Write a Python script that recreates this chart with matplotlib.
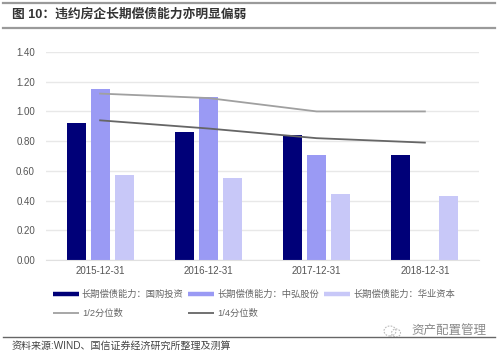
import matplotlib
matplotlib.use('Agg')
import matplotlib.pyplot as plt
import numpy as np
from matplotlib.lines import Line2D
from matplotlib.patches import Ellipse

plt.rcParams['font.family'] = ['Liberation Sans', 'Noto Sans CJK SC', 'DejaVu Sans']

categories = ['2015-12-31', '2016-12-31', '2017-12-31', '2018-12-31']
guogou = [0.92, 0.86, 0.84, 0.71]
zhonghong = [1.15, 1.10, 0.71, np.nan]
huaye = [0.57, 0.55, 0.445, 0.43]
median = [1.12, 1.09, 1.00, 1.00]
quartile = [0.94, 0.885, 0.82, 0.79]
yticks = [0, 0.2, 0.4, 0.6, 0.8, 1.0, 1.2, 1.4]
names = ['长期偿债能力\uff1a国购投资', '长期偿债能力\uff1a中弘股份', '长期偿债能力\uff1a华业资本', '1/2分位数', '1/4分位数']
title = '图 10\uff1a违约房企长期偿债能力亦明显偏弱'
source = '资料来源:WIND、国信证券经济研究所整理及测算'
watermark = '资产配置管理'

W, H = 500, 354
fig = plt.figure(figsize=(W / 100, H / 100), dpi=100, facecolor='white')
ax = fig.add_axes([46 / W, 1 - 260 / H, 433 / W, 208 / H])
x = np.arange(len(categories))
cols = ['#000078', '#9A9AF4', '#C8C8F8']
for off, vals, c in zip((-0.222, 0, 0.222), (guogou, zhonghong, huaye), cols):
    ax.bar(x + off, vals, width=0.175, color=c, zorder=2)
ax.plot(x, median, color='#A0A0A0', lw=1.3, zorder=3)
ax.plot(x, quartile, color='#666666', lw=1.3, zorder=3)
ax.set_xlim(-0.5, 3.5)
ax.set_ylim(0, 1.4)
ax.set_yticks(yticks, [f'{v:.2f}' for v in yticks])
ax.set_xticks(x, categories)
ax.grid(axis='y', color='#E8E8E8', lw=1, zorder=0)
ax.set_axisbelow(True)
for s in ('top', 'right', 'left'):
    ax.spines[s].set_visible(False)
ax.spines['bottom'].set_color('#E0E0E0')
ax.tick_params(length=0, labelsize=7, labelcolor='#555555')
ax.tick_params(axis='y', pad=8)
ax.tick_params(axis='x', pad=4.5)

def handle(color, xp, yp, lw):
    fig.add_artist(Line2D([xp / W, (xp + 26) / W], [1 - yp / H] * 2, color=color, lw=lw, solid_capstyle='butt'))

for xp, c, n in zip((53, 188, 324), cols, names[:3]):
    handle(c, xp, 294, 3.2)
    fig.text((xp + 29) / W, 1 - 294 / H, n, fontsize=6.7, color='#666666', va='center')
for xp, c, n in zip((53, 188), ('#A0A0A0', '#666666'), names[3:]):
    handle(c, xp, 313, 1.3)
    fig.text((xp + 29) / W, 1 - 313 / H, n, fontsize=6.7, color='#666666', va='center')

for yp, c, lw in ((3, '#9A9A9A', 1.6), (28, '#9A9A9A', 1.6), (337, '#666666', 1.0)):
    fig.add_artist(Line2D([3 / W, 495 / W], [1 - yp / H] * 2, color=c, lw=lw))
fig.text(12 / W, 1 - 15 / H, title, fontsize=9.2, fontweight='bold', color='#333333', va='center')
fig.text(12 / W, 1 - 345.5 / H, source, fontsize=7.2, color='#444444', va='center')
fig.text(411 / W, 1 - 331 / H, watermark, fontsize=9, color='#8A8A8A', va='center')
for cx, cy, w, h in ((390, 331, 12, 10), (396, 333, 9, 8)):
    fig.add_artist(Ellipse((cx / W, 1 - cy / H), w / W, h / H, transform=fig.transFigure,
                           fill=False, ec='#BBBBBB', lw=0.8, ls=(0, (1.5, 1.2))))
fig.savefig('out.png', dpi=100, facecolor='white')
